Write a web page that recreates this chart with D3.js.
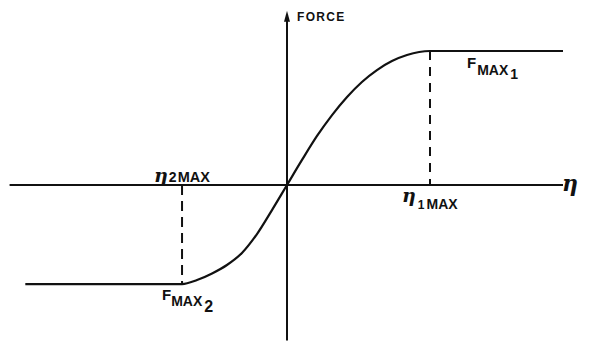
<!DOCTYPE html>
<html>
<head>
<meta charset="utf-8">
<script src="https://cdn.jsdelivr.net/npm/d3@7"></script>
<style>
  html, body { margin: 0; padding: 0; background: #fff; }
  svg { display: block; }
  .lbl { font-family: "Liberation Sans", Arial, sans-serif; font-weight: bold; fill: #111; }
  .eta { font-family: "DejaVu Serif", serif; font-style: italic; font-weight: bold; fill: #111; }
</style>
</head>
<body>
<svg id="chart" width="589" height="342"></svg>
<script>
// Force vs. deflection (eta): saturating characteristic with unequal limits
const etaMax1 = 1.0;        // positive deflection limit
const etaMax2 = -0.734;     // negative deflection limit
const forceMax1 = 1.0;      // positive force limit
const forceMax2 = -0.739;   // negative force limit

// Characteristic, including the flat saturation segments (eta, force)
const curveEta   = [-1.83, -0.734, -0.629, -0.524, -0.420, -0.315, -0.210, -0.105, 0, 0.105, 0.210, 0.315, 0.420, 0.524, 0.629, 0.734, 0.839, 1.0, 1.93];
const curveForce = [-0.739, -0.739, -0.709, -0.660, -0.597, -0.507, -0.366, -0.187, 0, 0.187, 0.366, 0.522, 0.657, 0.769, 0.858, 0.925, 0.970, 1.0, 1.0];

// Axis extents
const etaAxis = [-1.94, 1.93];
const forceAxis = [1.30, -1.16];

const svg = d3.select("#chart");
const W = 589, H = 342;
svg.append("rect").attr("width", W).attr("height", H).attr("fill", "#fff");

const x = d3.scaleLinear().domain([-2, 2]).range([1, 573]);
const y = d3.scaleLinear().domain([-1.3, 1.3]).range([359.2, 10.8]);

const ink = "#111";

// horizontal (eta) axis
svg.append("line")
  .attr("x1", x(etaAxis[0])).attr("x2", x(etaAxis[1]))
  .attr("y1", y(0)).attr("y2", y(0))
  .attr("stroke", ink).attr("stroke-width", 2);

// vertical (force) axis
svg.append("line")
  .attr("x1", x(0)).attr("x2", x(0))
  .attr("y1", y(forceAxis[0]) + 6).attr("y2", y(forceAxis[1]))
  .attr("stroke", ink).attr("stroke-width", 2);

// arrowhead on the force axis
const ax = x(0), ay = y(forceAxis[0]);
svg.append("path")
  .attr("d", `M${ax},${ay} L${ax - 3},${ay + 11} L${ax + 3},${ay + 11} Z`)
  .attr("fill", ink);

// limit markers (dashed)
svg.append("line")
  .attr("x1", x(etaMax1)).attr("x2", x(etaMax1))
  .attr("y1", y(forceMax1)).attr("y2", y(0))
  .attr("stroke", ink).attr("stroke-width", 2)
  .attr("stroke-dasharray", "9,7");
svg.append("line")
  .attr("x1", x(etaMax2)).attr("x2", x(etaMax2))
  .attr("y1", y(0)).attr("y2", y(forceMax2))
  .attr("stroke", ink).attr("stroke-width", 2)
  .attr("stroke-dasharray", "10,6");

// characteristic curve
const pts = curveEta.map((e, i) => [e, curveForce[i]]);
const line = d3.line().x(d => x(d[0])).y(d => y(d[1])).curve(d3.curveMonotoneX);
svg.append("path")
  .attr("d", line(pts))
  .attr("fill", "none")
  .attr("stroke", ink)
  .attr("stroke-width", 2.2)
  .attr("stroke-linejoin", "round");

// labels
svg.append("text").attr("class", "lbl")
  .attr("x", x(0) + 10).attr("y", y(forceAxis[0]) + 10)
  .attr("font-size", 12).attr("letter-spacing", 1.3)
  .text("FORCE");

// eta at end of axis
svg.append("text").attr("class", "eta")
  .attr("x", x(etaAxis[1]) - 1).attr("y", y(0) + 6)
  .attr("font-size", 22)
  .text("η");

// F MAX1
const f1 = svg.append("text").attr("class", "lbl")
  .attr("x", x(etaMax1) + 37).attr("y", y(forceMax1) + 17);
f1.append("tspan").attr("font-size", 15).text("F");
f1.append("tspan").attr("font-size", 14).attr("dy", 7).attr("dx", 1).text("MAX");
f1.append("tspan").attr("font-size", 14).attr("dy", 4).attr("dx", 2).text("1");

// F MAX2
const f2 = svg.append("text").attr("class", "lbl")
  .attr("x", x(etaMax2) - 20).attr("y", y(forceMax2) + 16);
f2.append("tspan").attr("font-size", 15).text("F");
f2.append("tspan").attr("font-size", 14).attr("dy", 6).attr("dx", 0).text("MAX");
f2.append("tspan").attr("font-size", 16).attr("dy", 6).attr("dx", 2).text("2");

// eta 2MAX
const e2 = svg.append("text").attr("class", "lbl")
  .attr("x", x(etaMax2) - 28).attr("y", y(0) - 3);
e2.append("tspan").attr("class", "eta").attr("font-size", 19).text("η");
e2.append("tspan").attr("font-size", 14).attr("dx", 1).attr("dy", 0).text("2");
e2.append("tspan").attr("font-size", 14.5).attr("dx", 1).text("MAX");

// eta 1MAX
const e1 = svg.append("text").attr("class", "lbl")
  .attr("x", x(etaMax1) - 28).attr("y", y(0) + 17);
e1.append("tspan").attr("class", "eta").attr("font-size", 19).text("η");
e1.append("tspan").attr("font-size", 12).attr("dx", 2).attr("dy", 7).text("1");
e1.append("tspan").attr("font-size", 14).attr("dx", 2).text("MAX");
</script>
</body>
</html>
